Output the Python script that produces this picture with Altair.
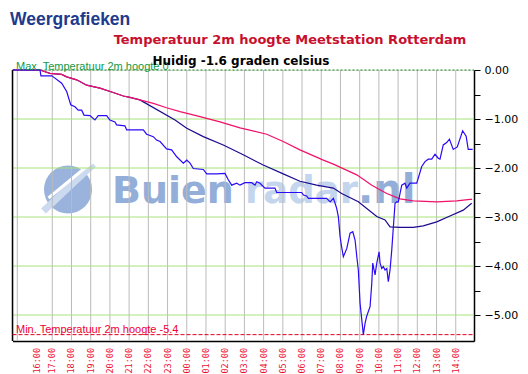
import altair as alt
import pandas as pd

# time axis: hours since 16:00 (first day)
blue_h = [-1.05, 0.36, 0.41, 0.98, 1.05, 1.49, 1.75, 1.96, 2.18, 2.35,
          2.53, 2.65, 2.96, 3.22, 3.39, 3.83, 4.00, 4.26, 4.35, 4.78,
          4.87, 5.74, 5.91, 6.26, 6.43, 6.61, 6.95, 7.21, 7.48, 7.82,
          8.00, 8.17, 8.34, 8.86, 9.04, 9.56, 9.99, 10.16, 10.34, 10.60,
          10.77, 11.03, 11.38, 11.55, 11.64, 11.81, 12.07, 12.59, 12.68, 13.98,
          14.07, 14.24, 14.33, 15.28, 15.46, 15.63, 15.72, 15.80, 15.89, 15.98,
          16.06, 16.15, 16.33, 16.50, 16.64, 16.76, 16.85, 16.93, 17.02, 17.11,
          17.19, 17.28, 17.36, 17.54, 17.63, 17.68, 17.80, 17.89, 18.01, 18.06,
          18.15, 18.23, 18.32, 18.41, 18.49, 18.58, 18.67, 18.84, 18.93, 19.01,
          19.19, 19.36, 19.45, 19.62, 19.97, 20.23, 20.40, 20.57, 20.75, 20.92,
          21.09, 21.18, 21.35, 21.53, 21.67, 21.87, 22.08, 22.36, 22.54, 22.65, 22.88]
blue_t = [0.0, 0.0, -0.12, -0.12, -0.14, -0.27, -0.44, -0.71, -0.75, -0.82,
          -0.82, -0.92, -0.93, -1.02, -0.93, -0.93, -1.02, -1.06, -1.12, -1.14,
          -1.22, -1.22, -1.31, -1.36, -1.43, -1.46, -1.61, -1.63, -1.77, -1.90,
          -1.84, -1.90, -2.01, -2.03, -2.12, -2.12, -2.11, -2.24, -2.35, -2.31,
          -2.35, -2.30, -2.30, -2.35, -2.28, -2.31, -2.41, -2.41, -2.50, -2.50,
          -2.55, -2.57, -2.62, -2.62, -2.69, -2.62, -2.72, -2.82, -2.99, -3.40,
          -3.61, -3.81, -3.64, -3.33, -3.30, -3.47, -3.81, -4.08, -4.76, -5.10,
          -5.40, -5.17, -5.03, -4.83, -4.35, -3.94, -4.18, -3.94, -3.71, -3.94,
          -4.05, -4.01, -4.08, -4.05, -4.32, -4.08, -3.67, -2.72, -2.69, -2.69,
          -2.35, -2.31, -2.41, -2.31, -2.31, -1.97, -1.87, -1.82, -1.82, -1.72,
          -1.80, -1.82, -1.53, -1.48, -1.41, -1.62, -1.57, -1.24, -1.35, -1.62, -1.62]

pink_h = [-1.05, 0.36, 0.88, 1.49, 1.75, 2.27, 2.79, 3.48, 4.17, 4.70, 5.04, 5.56,
          6.26, 6.95, 7.65, 8.17, 8.69, 9.73, 10.77, 12.16, 13.02, 13.89, 15.11,
          15.63, 16.85, 17.63, 18.41, 19.10, 19.79, 21.01, 22.05, 22.74, 22.85]
pink_t = [0.0, 0.0, -0.07, -0.09, -0.14, -0.20, -0.31, -0.37, -0.46, -0.53, -0.56, -0.61,
          -0.68, -0.77, -0.85, -0.90, -0.95, -1.06, -1.18, -1.31, -1.46, -1.63, -1.84,
          -1.92, -2.14, -2.35, -2.52, -2.63, -2.67, -2.69, -2.67, -2.64, -2.64]

navy_h = [-1.05, 0.36, 0.88, 1.49, 1.75, 2.27, 2.79, 3.48, 4.17, 4.70, 5.04, 5.56,
          5.74, 7.39, 8.00, 8.86, 9.90, 10.94, 11.98, 13.02, 13.89, 14.76, 15.63,
          16.06, 16.93, 17.89, 18.32, 18.58, 19.10, 19.79, 20.31, 21.01, 21.70, 22.39, 22.83]
navy_t = [0.0, 0.0, -0.07, -0.09, -0.14, -0.20, -0.31, -0.37, -0.46, -0.53, -0.56, -0.61,
          -0.65, -1.02, -1.19, -1.36, -1.53, -1.73, -1.94, -2.12, -2.27, -2.35, -2.41,
          -2.52, -2.69, -2.99, -3.06, -3.20, -3.21, -3.21, -3.18, -3.10, -2.98, -2.86, -2.72]

grid_hours = [-0.82, 1, 2, 3, 4, 5, 6, 7, 8, 9, 10, 11, 12, 13, 14, 15, 16, 17, 18, 19, 20, 21, 22]
label_hours = [0.19, 1, 2, 3, 4, 5, 6, 7, 8, 9, 10, 11, 12, 13, 14, 15, 16, 17, 18, 19, 20, 21, 22]
label_texts = ["16:00", "17:00", "18:00", "19:00", "20:00", "21:00", "22:00", "23:00",
               "00:00", "01:00", "02:00", "03:00", "04:00", "05:00", "06:00", "07:00",
               "08:00", "09:00", "10:00", "11:00", "12:00", "13:00", "14:00"]
hgrid_vals = [-1, -2, -3, -4, -5]
y_ticks = [0, -0.5, -1, -1.5, -2, -2.5, -3, -3.5, -4, -4.5, -5]
max_temp = 0
min_temp = -5.4
current = -1.6

W, H = 461.5, 271
xscale = alt.Scale(domain=[-1.07, 22.95], nice=False, zero=False)
yscale = alt.Scale(domain=[-5.53, 0], nice=False, zero=False)
xaxis = alt.Axis(labels=False, ticks=False, grid=False, domainColor="black",
                 domainWidth=1.5, title=None)
yaxis = alt.Axis(orient="right", values=y_ticks,
                 labelExpr="datum.value % 1 == 0 ? format(datum.value, '.2f') : ''",
                 tickSize=6, tickColor="black", tickWidth=1, domainColor="black",
                 domainWidth=1.5, labelFont="DejaVu Sans", labelFontSize=11,
                 labelColor="black", labelPadding=4, labelOverlap=False,
                 grid=False, title=None)


def X(f="h"):
    return alt.X(f"{f}:Q", scale=xscale, axis=xaxis)


def Y(f="t"):
    return alt.Y(f"{f}:Q", scale=yscale, axis=yaxis)


one = pd.DataFrame({"a": [0]})

# watermark
logo = alt.Chart(one).mark_circle(size=2304, color="#9AB3DC", opacity=1).encode(
    x=alt.value(55.5), y=alt.value(119.5))
stripe1 = alt.Chart(one).mark_rule(color="#CCDAF0", strokeWidth=7).encode(
    x=alt.value(31), y=alt.value(141), x2=alt.value(81), y2=alt.value(94))
stripe2 = alt.Chart(one).mark_rule(color="white", strokeWidth=3).encode(
    x=alt.value(36), y=alt.value(128), x2=alt.value(81), y2=alt.value(91))
wm1 = alt.Chart(one).mark_text(text="Buien", align="left", baseline="alphabetic",
                               font="DejaVu Sans", fontWeight="bold", fontSize=38,
                               color="#93AED9").encode(x=alt.value(99.5), y=alt.value(133))
wm2 = alt.Chart(one).mark_text(text="radar", align="left", baseline="alphabetic",
                               font="DejaVu Sans", fontWeight="bold", fontSize=37,
                               color="#C4D5EE").encode(x=alt.value(232.5), y=alt.value(133))
wm3 = alt.Chart(one).mark_text(text=".nl", align="left", baseline="alphabetic",
                               font="DejaVu Sans", fontWeight="bold", fontSize=40,
                               color="#93AED9").encode(x=alt.value(345.5), y=alt.value(133))

vgrid = alt.Chart(pd.DataFrame({"h": grid_hours})).mark_rule(
    color="#BBBBBB", strokeWidth=1).encode(x=X(), y=alt.value(0), y2=alt.value(H))
hgrid = alt.Chart(pd.DataFrame({"t": hgrid_vals})).mark_rule(
    color="#A6E27A", strokeWidth=1).encode(y=Y(), x=alt.value(0), x2=alt.value(W))
leftline = alt.Chart(one).mark_rule(color="black", strokeWidth=1.5).encode(
    x=alt.value(0), y=alt.value(0), y2=alt.value(H))

maxline = alt.Chart(pd.DataFrame({"t": [max_temp]})).mark_rule(
    color="#138A13", strokeWidth=1, strokeDash=[2, 2]).encode(
    y=Y(), x=alt.value(0), x2=alt.value(W))
minline = alt.Chart(pd.DataFrame({"t": [min_temp]})).mark_rule(
    color="#E00020", strokeWidth=1, strokeDash=[4, 2]).encode(
    y=Y(), x=alt.value(0), x2=alt.value(W))

navy = alt.Chart(pd.DataFrame({"h": navy_h, "t": navy_t})).mark_line(
    color="#1C0A8E", strokeWidth=1.2).encode(x=X(), y=Y(), order="h:Q")
pink = alt.Chart(pd.DataFrame({"h": pink_h, "t": pink_t})).mark_line(
    color="#F2106A", strokeWidth=1.2).encode(x=X(), y=Y(), order="h:Q")
blue = alt.Chart(pd.DataFrame({"h": blue_h, "t": blue_t})).mark_line(
    color="#2B0BF5", strokeWidth=1.2).encode(x=X(), y=Y(), order="h:Q")

maxlab = alt.Chart(one).mark_text(
    text=f"Max. Temperatuur 2m hoogte {max_temp}", align="left", baseline="alphabetic",
    font="Liberation Sans", fontSize=11, color="#119944").encode(
    x=alt.value(3.5), y=alt.value(-0.5))
minlab = alt.Chart(one).mark_text(
    text=f"Min. Temperatuur 2m hoogte {min_temp}", align="left", baseline="alphabetic",
    font="Liberation Sans", fontSize=11, color="#EE0033").encode(
    x=alt.value(3.5), y=alt.value(262.5))

xlabels = alt.Chart(pd.DataFrame({"h": label_hours, "lab": label_texts})).mark_text(
    angle=270, align="right", baseline="middle", font="DejaVu Sans Mono",
    fontSize=8.5, color="#EE1133").encode(x=X(), y=alt.value(278), text="lab:N")

t0 = alt.Chart(one).mark_text(text="Weergrafieken", align="left", baseline="alphabetic",
                              font="Liberation Sans", fontWeight="bold", fontSize=17.5,
                              color="#213A8C").encode(x=alt.value(-2.5), y=alt.value(-45))
t1 = alt.Chart(one).mark_text(text="Temperatuur 2m hoogte Meetstation Rotterdam",
                              align="center", baseline="alphabetic", font="DejaVu Sans",
                              fontWeight="bold", fontSize=13, color="#C8102E").encode(
    x=alt.value(277.5), y=alt.value(-26))
t2 = alt.Chart(one).mark_text(text=f"Huidig {current} graden celsius",
                              align="center", baseline="alphabetic", font="DejaVu Sans",
                              fontWeight="bold", fontSize=12, color="black").encode(
    x=alt.value(228.5), y=alt.value(-5.5))

chart = alt.layer(
    logo, stripe1, stripe2, wm1, wm2, wm3,
    vgrid, hgrid, leftline, maxline, minline,
    navy, pink, blue,
    maxlab, minlab, xlabels, t0, t1, t2,
).properties(
    width=W, height=H,
    autosize=alt.AutoSizeParams(type="none"),
    padding={"left": 4.5, "top": 62, "right": 46, "bottom": 40},
).configure_view(strokeWidth=0).configure(background="white")

chart.save("out.html", embed_options={"renderer": "svg", "actions": False})
